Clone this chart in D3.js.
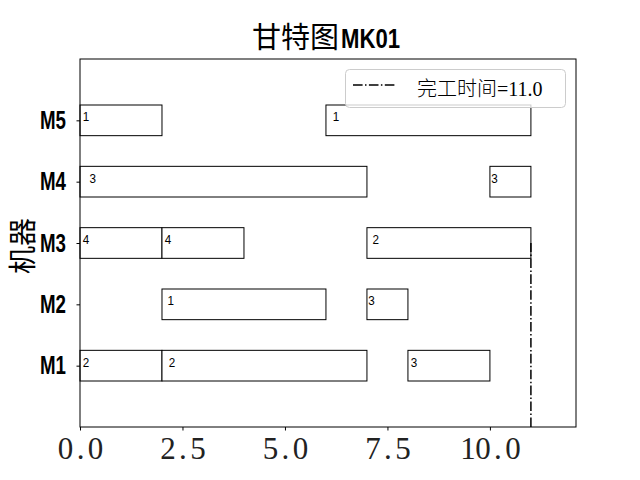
<!DOCTYPE html>
<html><head><meta charset="utf-8">
<script src="https://cdn.jsdelivr.net/npm/d3@7"></script>
<style>body{margin:0;background:#fff}svg{display:block}</style>
</head><body>
<svg id="c" width="640" height="480"></svg>
<script>
// ---- data ----
const machineLabels = ["M1","M2","M3","M4","M5"];
const opMachine  = [1,1,1, 2,2, 3,3,3, 4,4, 5,5];
const opStart    = [0,2,8, 2,7, 0,2,7, 0,10, 0,6];
const opDuration = [2,5,2, 4,1, 2,2,4, 7,1, 2,5];
const opJob      = ["2","2","3", "1","3", "4","4","2", "3","3", "1","1"];
const makespan = 11.0;
const makespanLineTo = 3;   // vertical line spans machine axis 0..3
const xTicks = [0, 2.5, 5, 7.5, 10];
const titleCJK = "甘特图", titleLatin = "MK01";
const yLabel = "机器";
const legendLabel = "完工时间=" + makespan.toFixed(1);

// ---- layout ----
const svg = d3.select("#c");
const L = 80, R = 576, T = 59, B = 427;
const x = d3.scaleLinear().domain([0, makespan * 1.1]).range([L, R]);
const y = d3.scaleLinear().domain([0, 6]).range([B, T]);

const ops = opStart.map((s, i) => ({m: opMachine[i], s, d: opDuration[i], j: opJob[i]}));

// bars
svg.append("g").selectAll("rect").data(ops).join("rect")
  .attr("x", d => x(d.s)).attr("width", d => x(d.s + d.d) - x(d.s))
  .attr("y", d => y(d.m + 0.25)).attr("height", d => y(d.m - 0.25) - y(d.m + 0.25))
  .attr("fill", "#fff").attr("stroke", "#000").attr("stroke-width", 1);

// job labels
svg.append("g").selectAll("text").data(ops).join("text")
  .attr("x", d => x(d.s + d.d / 30)).attr("y", d => y(d.m) + 1)
  .attr("font-family", "Liberation Sans, sans-serif").attr("font-size", 12)
  .attr("textLength", 6.5).attr("lengthAdjust", "spacingAndGlyphs")
  .text(d => d.j);

// makespan line
svg.append("line")
  .attr("x1", x(makespan)).attr("x2", x(makespan))
  .attr("y1", y(0)).attr("y2", y(makespanLineTo))
  .attr("stroke", "#000").attr("stroke-width", 1.5)
  .attr("stroke-dasharray", "9.6,2.4,1.5,2.4");

// frame
svg.append("rect").attr("x", L).attr("y", T).attr("width", R - L).attr("height", B - T)
  .attr("fill", "none").attr("stroke", "#000").attr("stroke-width", 1);

// x axis
const gx = svg.append("g").attr("transform", `translate(0,${B})`)
  .call(d3.axisBottom(x).tickValues(xTicks).tickSize(3.5).tickFormat(""));
gx.select(".domain").remove();
gx.selectAll(".tick line").attr("stroke", "#000");
gx.selectAll(".tick").each(function(v) {
  const s = v.toFixed(1).split("");
  const g = d3.select(this);
  s.forEach((ch, i) => {
    g.append("text").attr("x", (i - (s.length - 1) / 2) * 15).attr("y", 32)
      .attr("text-anchor", "middle").attr("fill", "#222")
      .attr("font-family", "Liberation Serif, serif").attr("font-size", 31)
      .text(ch);
  });
});

// y axis
const gy = svg.append("g").attr("transform", `translate(${L},0)`)
  .call(d3.axisLeft(y).tickValues([1,2,3,4,5]).tickSize(3.5).tickFormat(""));
gy.select(".domain").remove();
gy.selectAll(".tick line").attr("stroke", "#000");
gy.selectAll(".tick").append("text")
  .attr("x", -14).attr("y", 8).attr("text-anchor", "end").attr("fill", "#000")
  .attr("font-family", "Liberation Sans, sans-serif").attr("font-size", 26).attr("font-weight", "bold")
  .attr("textLength", 26).attr("lengthAdjust", "spacingAndGlyphs")
  .text(d => machineLabels[d - 1]);

// title
svg.append("text").attr("x", 252).attr("y", 48)
  .attr("font-family", "Noto Sans CJK SC").attr("font-size", 29).text(titleCJK);
svg.append("text").attr("x", 341).attr("y", 47.5)
  .attr("font-family", "Liberation Sans, sans-serif").attr("font-size", 28).attr("font-weight", "bold")
  .attr("textLength", 59).attr("lengthAdjust", "spacingAndGlyphs").text(titleLatin);

// y label
svg.append("text").attr("transform", "translate(33,246) rotate(-90)")
  .attr("text-anchor", "middle").attr("font-family", "Noto Sans CJK SC").attr("font-size", 28)
  .text(yLabel);

// legend
const lg = svg.append("g");
lg.append("rect").attr("x", 345.5).attr("y", 69.5).attr("width", 220).attr("height", 38).attr("rx", 4)
  .attr("fill", "#fff").attr("fill-opacity", 0.8).attr("stroke", "#ccc").attr("stroke-width", 1);
lg.append("line").attr("x1", 353).attr("x2", 395).attr("y1", 85).attr("y2", 85)
  .attr("stroke", "#000").attr("stroke-width", 1.5).attr("stroke-dasharray", "9.6,2.4,1.5,2.4");
lg.append("text").attr("x", 417).attr("y", 95.5)
  .attr("font-family", "Liberation Serif, Noto Sans CJK SC").attr("font-weight", 300).attr("font-size", 20)
  .text(legendLabel);
</script>
</body></html>
